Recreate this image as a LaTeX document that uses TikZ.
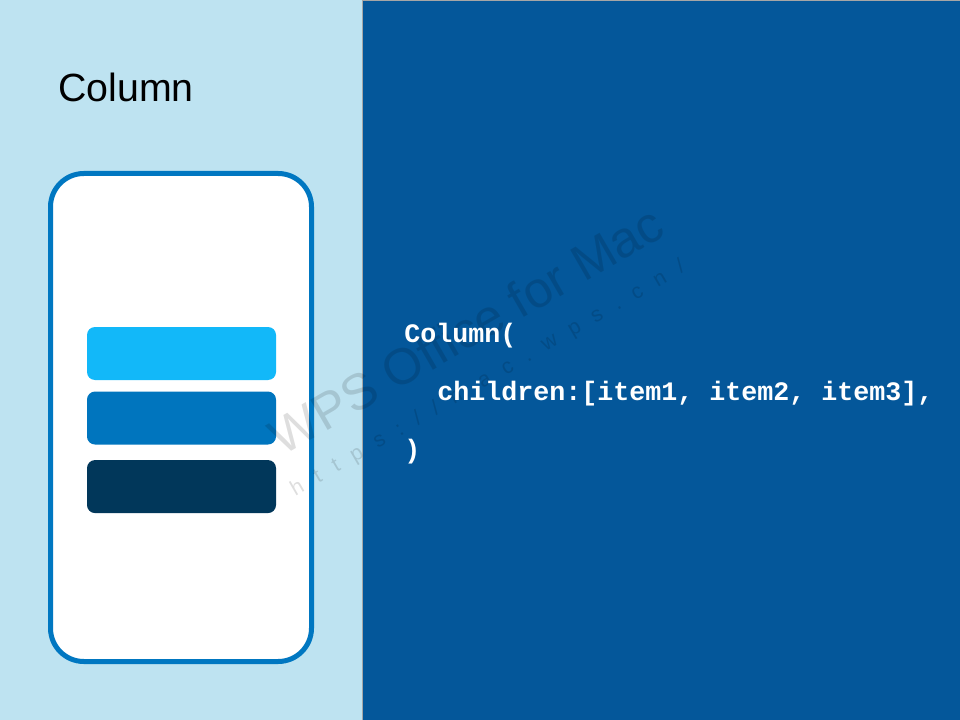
\documentclass[tikz,border=0pt]{standalone}
\usepackage{fontspec}
\usepackage{tikz}
\usetikzlibrary{positioning}
\newfontfamily\titlefont{Liberation Sans}
\newfontfamily\codefont{Liberation Mono}
\newfontfamily\markfont{Liberation Sans}

\definecolor{paleblue}{HTML}{BEE3F1}
\definecolor{panelblue}{HTML}{04579A}
\definecolor{phoneblue}{HTML}{0077C1}
\definecolor{itemA}{HTML}{12B8F9}
\definecolor{itemB}{HTML}{0075BE}
\definecolor{itemC}{HTML}{01375A}

\begin{document}
\begin{tikzpicture}[x=0.75pt,y=-0.75pt,
    itembox/.style={fill=#1, rounded corners=6pt, minimum width=141.75pt, minimum height=39.75pt, inner sep=0pt},
    codeline/.style={text=white, anchor=base west, inner sep=0pt, font=\codefont\bfseries\fontsize{20}{24}\selectfont},
    watermark/.style={text=black, opacity=0.13, rotate=30, inner sep=0pt}]
    \useasboundingbox (0,0) rectangle (960,720);
    % background and code panel
    \fill[paleblue] (0,0) rectangle (960,720);
    \fill[panelblue] (362,1) rectangle (960,720);
    \draw[gray!70, line width=0.75pt] (362,720) -- (362,1) -- (960,1);
    % title
    \node[anchor=base west, inner sep=0pt, font=\titlefont\fontsize{29.5}{34}\selectfont] (title) at (58,102) {Column};
    % phone with three items
    \draw[phoneblue, fill=white, line width=3.75pt, rounded corners=25pt] (50.5,173.5) rectangle (311.5,661.5);
    \node[itembox=itemA] (item1) at (181.5,353.5) {};
    \node[itembox=itemB, below=8.25pt of item1] (item2) {};
    \node[itembox=itemC, below=11.25pt of item2] (item3) {};
    % watermark
    \node[watermark, font=\markfont\fontsize{38}{42}\selectfont] (wps) at (466,330) {WPS Office for Mac};
    \node[watermark, font=\markfont\addfontfeature{LetterSpace=70}\fontsize{16}{20}\selectfont] (url) at (488,379) {https://mac.wps.cn/};
    % code
    \node[codeline] (line1) at (404,342) {Column(};
    \node[codeline] (line2) at (437,400) {children:[item1, item2, item3],};
    \node[codeline] (line3) at (404,458) {)};
\end{tikzpicture}
\end{document}
